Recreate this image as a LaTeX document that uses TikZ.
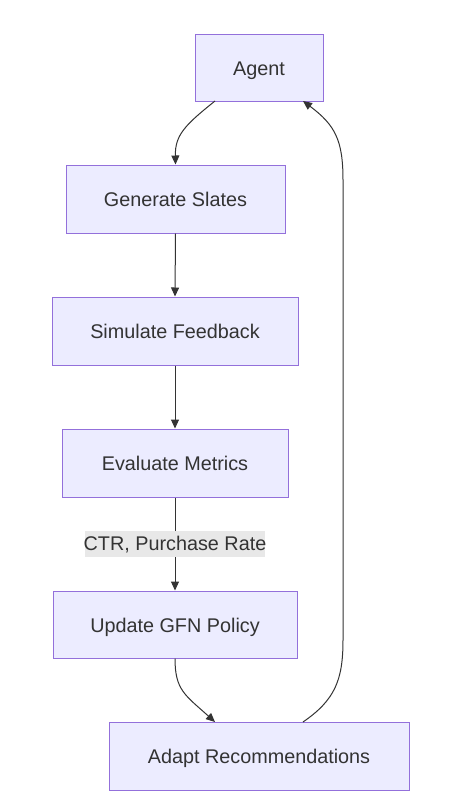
\documentclass[tikz,border=0pt]{standalone}
\usepackage{fontspec}
\setmainfont{Liberation Sans}
\usetikzlibrary{arrows.meta}
\definecolor{boxfill}{HTML}{ECECFF}
\definecolor{boxline}{HTML}{9370DB}
\definecolor{edge}{HTML}{333333}
\definecolor{lblbg}{HTML}{E8E8E8}
\begin{document}
\begin{tikzpicture}[x=1pt,y=-1pt,
  box/.style={draw=boxline,fill=boxfill,line width=1pt,text=edge,font=\fontsize{19.8}{22}\selectfont,inner sep=0pt,anchor=center,text height=17pt,text depth=2pt},
  conn/.style={draw=edge,line width=1pt,-{Triangle[length=9pt,width=8pt]}},
  lbl/.style={fill=lblbg,text=edge,font=\fontsize{19.8}{22}\selectfont,inner xsep=-1.5pt,inner ysep=3.5pt,text height=16pt,text depth=3pt}]
\useasboundingbox (0,0) rectangle (474,806);
\node[box,minimum width=128pt,minimum height=67pt] (agent) at (259,67.5) {Agent};
\node[box,minimum width=219pt,minimum height=68pt] (gen) at (175.5,199) {Generate Slates};
\node[box,minimum width=246pt,minimum height=68pt] (sim) at (175,331) {Simulate Feedback};
\node[box,minimum width=226pt,minimum height=68pt] (eval) at (175,463) {Evaluate Metrics};
\node[box,minimum width=244pt,minimum height=67pt] (upd) at (175,624.5) {Update GFN Policy};
\node[box,minimum width=300pt,minimum height=68pt] (adapt) at (259,756) {Adapt Recommendations};
\coordinate (a1) at (215,101);
\coordinate (a2) at (303,101);
\coordinate (d1) at (215,722);
\coordinate (d2) at (303,722);
\draw[conn] (a1) .. controls (185,125) and (175,135) .. (gen.north);
\draw[conn] (gen.south) -- (sim.north);
\draw[conn] (sim.south) -- (eval.north);
\draw[conn] (eval.south) -- node[lbl] (lab) {CTR, Purchase Rate} (upd.north);
\draw[conn] (upd.south) .. controls (175,690) and (185,695) .. (d1);
\draw[conn] (d2) .. controls (335,700) and (343,680) .. (343,640) -- (343,180) .. controls (343,140) and (335,125) .. (a2);
\end{tikzpicture}
\end{document}
